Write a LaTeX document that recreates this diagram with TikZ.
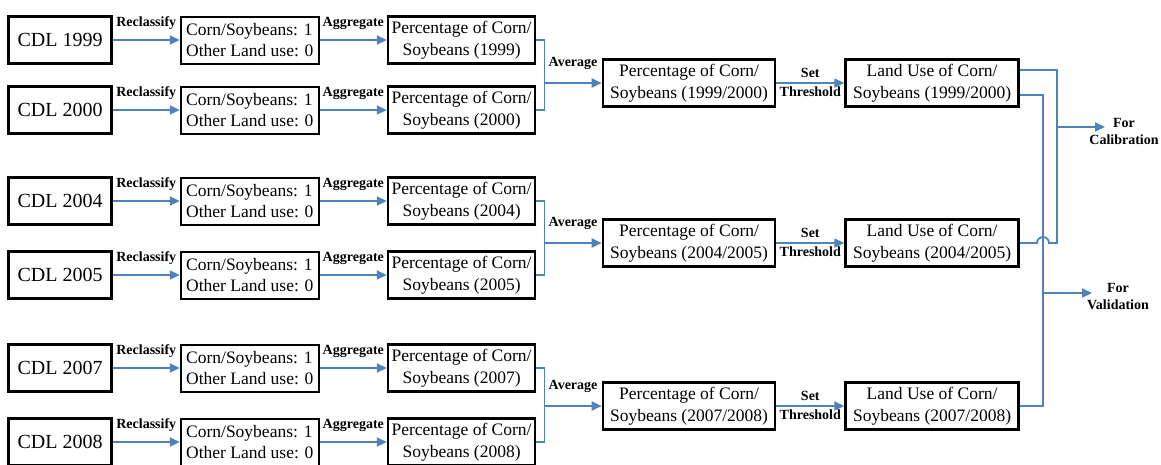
\documentclass[tikz,border=0pt]{standalone}
\usepackage{fontspec}
\setmainfont{Liberation Serif}
\usepackage{tikz}
\usetikzlibrary{positioning, calc, arrows.meta}
\definecolor{linkblue}{RGB}{79,129,189}

\begin{document}
\begin{tikzpicture}[x=1pt, y=1pt, node distance=67pt,
box/.style={rectangle, draw=black, line width=2.6pt, minimum height=47pt,
inner sep=3pt, align=center, font=\fontsize{17.5}{21.5}\selectfont},
cdlbox/.style={box, minimum width=103pt, font=\fontsize{20}{24}\selectfont},
classbox/.style={box, line width=2pt, minimum width=138pt, align=left},
percbox/.style={box, minimum width=147pt},
avgbox/.style={box, minimum width=172pt},
landbox/.style={box, minimum width=173pt},
tag/.style={inner sep=1pt, align=center, font=\fontsize{14}{17}\selectfont\bfseries},
link/.style={draw=linkblue, line width=1.8pt},
arrow/.style={link, -{Triangle[length=10pt,width=9pt]}}
]
\useasboundingbox (0,0) rectangle (1161,-464);

% CDL 1999
\node[cdlbox] (cdl1999) at (60,-40) {CDL 1999};
\node[classbox, right=of cdl1999] (class1999) {Corn/Soybeans: 1\\Other Land use: 0};
\node[percbox, right=of class1999] (perc1999) {Percentage of Corn/\\Soybeans (1999)};

% CDL 2000
\node[cdlbox] (cdl2000) at (60,-110) {CDL 2000};
\node[classbox, right=of cdl2000] (class2000) {Corn/Soybeans: 1\\Other Land use: 0};
\node[percbox, right=of class2000] (perc2000) {Percentage of Corn/\\Soybeans (2000)};

% CDL 2004
\node[cdlbox] (cdl2004) at (60,-201) {CDL 2004};
\node[classbox, right=of cdl2004] (class2004) {Corn/Soybeans: 1\\Other Land use: 0};
\node[percbox, right=of class2004] (perc2004) {Percentage of Corn/\\Soybeans (2004)};

% CDL 2005
\node[cdlbox] (cdl2005) at (60,-275) {CDL 2005};
\node[classbox, right=of cdl2005] (class2005) {Corn/Soybeans: 1\\Other Land use: 0};
\node[percbox, right=of class2005] (perc2005) {Percentage of Corn/\\Soybeans (2005)};

% CDL 2007
\node[cdlbox] (cdl2007) at (60,-368) {CDL 2007};
\node[classbox, right=of cdl2007] (class2007) {Corn/Soybeans: 1\\Other Land use: 0};
\node[percbox, right=of class2007] (perc2007) {Percentage of Corn/\\Soybeans (2007)};

% CDL 2008
\node[cdlbox] (cdl2008) at (60,-442) {CDL 2008};
\node[classbox, right=of cdl2008] (class2008) {Corn/Soybeans: 1\\Other Land use: 0};
\node[percbox, right=of class2008] (perc2008) {Percentage of Corn/\\Soybeans (2008)};

% Averages
\node[avgbox] (avg9900) at (689,-83) {Percentage of Corn/\\Soybeans (1999/2000)};
\node[avgbox] (avg0405) at (689,-243) {Percentage of Corn/\\Soybeans (2004/2005)};
\node[avgbox] (avg0708) at (689,-406) {Percentage of Corn/\\Soybeans (2007/2008)};

% Land use
\node[landbox, right=68pt of avg9900] (land9900) {Land Use of Corn/\\Soybeans (1999/2000)};
\node[landbox, right=68pt of avg0405] (land0405) {Land Use of Corn/\\Soybeans (2004/2005)};
\node[landbox, right=68pt of avg0708] (land0708) {Land Use of Corn/\\Soybeans (2007/2008)};

% Uses
\coordinate (calbus) at (1057,0);
\coordinate (valbus) at (1043,0);
\coordinate (calib) at (1105,-127);
\coordinate (valid) at (1092,-293);
\node[tag] (calibtext) at (1124,-131) {For\\Calibration};
\node[tag] (validtext) at (1118,-297) {For\\Validation};

% Arrows
\foreach \yr in {1999,2000,2004,2005,2007,2008}{
\draw[arrow] (cdl\yr) -- node[tag, above=9pt] {Reclassify} (class\yr);
\draw[arrow] (class\yr) -- node[tag, above=9pt] {Aggregate} (perc\yr);
}

\draw[link] (perc1999.east) -- ++(8,0) coordinate (join9900) |- (perc2000.east);
\draw[arrow] (join9900 |- avg9900.west) -- node[tag, above=12pt] {Average} (avg9900.west);
\draw[link] (perc2004.east) -- ++(8,0) coordinate (join0405) |- (perc2005.east);
\draw[arrow] (join0405 |- avg0405.west) -- node[tag, above=12pt] {Average} (avg0405.west);
\draw[link] (perc2007.east) -- ++(8,0) coordinate (join0708) |- (perc2008.east);
\draw[arrow] (join0708 |- avg0708.west) -- node[tag, above=12pt] {Average} (avg0708.west);

\draw[arrow] (avg9900) -- node[tag, above=3pt] {Set} node[tag, below=2pt] {Threshold} (land9900);
\draw[arrow] (avg0405) -- node[tag, above=3pt] {Set} node[tag, below=2pt] {Threshold} (land0405);
\draw[arrow] (avg0708) -- node[tag, above=3pt] {Set} node[tag, below=2pt] {Threshold} (land0708);

\draw[link] ($(land9900.east)+(0,13)$) -| (calbus |- land0405.east) -- ++(-8,0)
arc[start angle=0, end angle=180, radius=6] -- (land0405.east);
\draw[arrow] (calbus |- calib) -- (calib);
\draw[link] ($(land9900.east)+(0,-12)$) -| (valbus |- land0708.east) -- (land0708.east);
\draw[arrow] (valbus |- valid) -- (valid);

\end{tikzpicture}
\end{document}
